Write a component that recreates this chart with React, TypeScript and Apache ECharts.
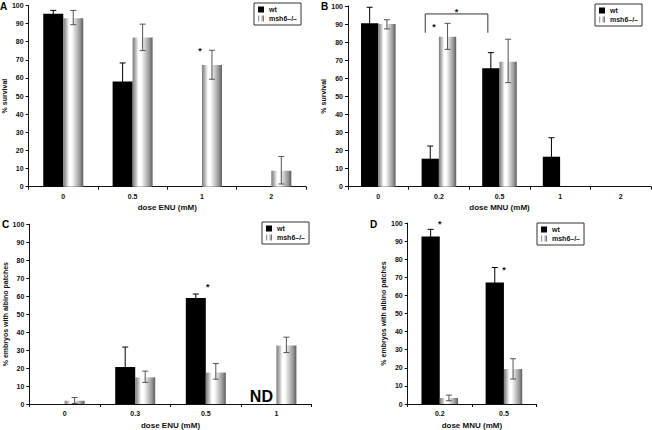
import React, { useEffect, useRef } from "react";
import * as echarts from "echarts";

const FONT = "'Liberation Sans', Arial, sans-serif";
const seriesNames = ["wt", "msh6–/–"];

// ---- Panel A: survival, ENU ----
const catsA = ["0", "0.5", "1", "2"];
const wtA = [95.5, 58, null, null];
const wtLoA = [93.7, 47.7, null, null];
const wtHiA = [97.3, 68.3, null, null];
const mshA = [93, 82.3, 67.2, 8.8];
const mshLoA = [89.4, 75.1, 59.3, 1.5];
const mshHiA = [97.3, 89.7, 75.3, 16.7];
const starsA = [[2, 76]];

// ---- Panel B: survival, MNU ----
const catsB = ["0", "0.2", "0.5", "1", "2"];
const wtB = [90.4, 15.5, 65.6, 16.6, null];
const wtLoB = [81.5, 8.5, 57, 6, null];
const wtHiB = [99.3, 22.5, 74.2, 27.1, null];
const mshB = [90, 83, 69.2, null, null];
const mshLoB = [87.3, 76, 57.6, null, null];
const mshHiB = [92.4, 90.4, 81.6, null, null];
const starsB = [[1, 89.5]];
const bracketB = [[1, 2, 85.2, 95.6]]; // fromCat, toCat, foot value, top value

// ---- Panel C: albino patches, ENU ----
const catsC = ["0", "0.3", "0.5", "1"];
const wtC = [null, 20.6, 59, null];
const wtLoC = [null, 9.5, 56.8, null];
const wtHiC = [null, 31.7, 61.2, null];
const mshC = [1.8, 14.8, 17.5, 32.6];
const mshLoC = [0.3, 12, 13.8, 28.6];
const mshHiC = [3.6, 18.3, 22.5, 37.2];
const starsC = [[2, 66.4]];
const ndC = [[3, 0]];

// ---- Panel D: albino patches, MNU ----
const catsD = ["0.2", "0.5"];
const wtD = [92.5, 67.1];
const wtLoD = [88.5, 58.8];
const wtHiD = [96.5, 75.4];
const mshD = [3.3, 19.3];
const mshLoD = [1.8, 13.8];
const mshHiD = [4.9, 25];
const starsD = [[0, 100.4], [1, 75]];

const panels = [
  {
    cats: catsA, wt: wtA, wtLo: wtLoA, wtHi: wtHiA, msh: mshA, mshLo: mshLoA, mshHi: mshHiA, stars: starsA,
    grid: { left: 28.5, top: 5.5, width: 277.5, height: 181.2 }, bw: 20,
    legend: { left: 254, top: 3 }, yName: "% survival", xName: "dose ENU (mM)", yGap: 19,
    letter: { text: "A", x: 0, y: 1 }, starDx: [-2],
  },
  {
    cats: catsB, wt: wtB, wtLo: wtLoB, wtHi: wtHiB, msh: mshB, mshLo: mshLoB, mshHi: mshHiB, stars: starsB,
    grid: { left: 348, top: 6, width: 303, height: 180.7 }, bw: 17.3,
    legend: { left: 595, top: 4 }, yName: "% survival", xName: "dose MNU (mM)", yGap: 19,
    letter: { text: "B", x: 321, y: 1 }, starDx: [-5],
  },
  {
    cats: catsC, wt: wtC, wtLo: wtLoC, wtHi: wtHiC, msh: mshC, mshLo: mshLoC, mshHi: mshHiC, stars: starsC,
    grid: { left: 29.3, top: 224.3, width: 282.4, height: 180.5 }, bw: 20,
    legend: { left: 262, top: 222 }, yName: "% embryos with albino patches", xName: "dose ENU (mM)", yGap: 20,
    letter: { text: "C", x: 2, y: 219 }, starDx: [2],
  },
  {
    cats: catsD, wt: wtD, wtLo: wtLoD, wtHi: wtHiD, msh: mshD, mshLo: mshLoD, mshHi: mshHiD, stars: starsD,
    grid: { left: 407.7, top: 223, width: 128.3, height: 181.3 }, bw: 18.3,
    legend: { left: 537, top: 223 }, yName: "% embryos with albino patches", xName: "dose MNU (mM)", yGap: 21,
    letter: { text: "D", x: 370, y: 219 }, starDx: [0, 0],
  },
];

const mshGradient = () => ({
  type: "linear", x: 0, y: 0, x2: 1, y2: 0,
  colorStops: [
    { offset: 0, color: "#7a7a7a" },
    { offset: 0.15, color: "#b8b8b8" },
    { offset: 0.3, color: "#ffffff" },
    { offset: 0.42, color: "#ffffff" },
    { offset: 0.65, color: "#c6c6c6" },
    { offset: 0.85, color: "#929292" },
    { offset: 1, color: "#5c5c5c" },
  ],
});

function errSeries(i: number, lo: any[], hi: any[], off: number, color: string) {
  const data = lo.map((l, k) => (l == null ? null : [k, l, hi[k]])).filter((d) => d != null);
  return {
    type: "custom", xAxisIndex: i, yAxisIndex: i, z: 5, silent: true,
    data,
    renderItem: (params: any, api: any) => {
      const k = api.value(0);
      const top = api.coord([k, api.value(2)]);
      const bot = api.coord([k, api.value(1)]);
      const x = top[0] + off;
      const c = 3;
      const st = { stroke: color, lineWidth: 1 };
      return {
        type: "group",
        children: [
          { type: "line", shape: { x1: x, y1: top[1], x2: x, y2: bot[1] }, style: st },
          { type: "line", shape: { x1: x - c, y1: top[1], x2: x + c, y2: top[1] }, style: st },
          { type: "line", shape: { x1: x - c, y1: bot[1], x2: x + c, y2: bot[1] }, style: st },
        ],
      };
    },
  };
}

function buildOption() {
  const grid: any[] = [];
  const xAxis: any[] = [];
  const yAxis: any[] = [];
  const legend: any[] = [];
  const series: any[] = [];
  const graphic: any[] = [];

  panels.forEach((p, i) => {
    grid.push({ ...p.grid, containLabel: false });
    xAxis.push({
      type: "category", gridIndex: i, data: p.cats,
      name: p.xName, nameLocation: "middle", nameGap: 17,
      nameTextStyle: { fontSize: 8, fontWeight: "bold", color: "#111", fontFamily: FONT },
      axisLine: { lineStyle: { color: "#111", width: 1 } },
      axisTick: { show: true, length: 3, lineStyle: { color: "#111" } },
      axisLabel: { fontSize: 7, fontWeight: "bold", color: "#111", fontFamily: FONT, margin: 6 },
    });
    yAxis.push({
      type: "value", gridIndex: i, min: 0, max: 100, interval: 10,
      name: p.yName, nameLocation: "middle", nameRotate: 90, nameGap: p.yGap,
      nameTextStyle: { fontSize: 7, fontWeight: "bold", color: "#111", fontFamily: FONT },
      splitLine: { show: false },
      axisLine: { show: true, lineStyle: { color: "#111", width: 1 } },
      axisTick: { show: true, length: 3, lineStyle: { color: "#111" } },
      axisLabel: { fontSize: 7, fontWeight: "bold", color: "#111", fontFamily: FONT, margin: 5 },
    });
    legend.push({
      data: seriesNames, left: p.legend.left, top: p.legend.top, orient: "vertical",
      itemWidth: 6, itemHeight: 6, itemGap: 2, padding: [3, 4],
      borderColor: "#333", borderWidth: 1, icon: "rect", selectedMode: false,
      textStyle: { fontSize: 7, fontWeight: "bold", color: "#111", fontFamily: FONT },
    });
    series.push({
      name: seriesNames[0], type: "bar", xAxisIndex: i, yAxisIndex: i, data: p.wt,
      barWidth: p.bw, barGap: "0%", itemStyle: { color: "#000" }, silent: true,
    });
    series.push({
      name: seriesNames[1], type: "bar", xAxisIndex: i, yAxisIndex: i, data: p.msh,
      barWidth: p.bw, barGap: "0%", itemStyle: { color: mshGradient() }, silent: true,
    });
    series.push(errSeries(i, p.wtLo, p.wtHi, -p.bw / 2, "#000"));
    series.push(errSeries(i, p.mshLo, p.mshHi, p.bw / 2, "#555"));
    series.push({
      type: "custom", xAxisIndex: i, yAxisIndex: i, z: 6, silent: true, data: p.stars,
      renderItem: (params: any, api: any) => {
        const c = api.coord([api.value(0), api.value(1)]);
        return {
          type: "text", x: c[0] + (p.starDx[params.dataIndex] || 0), y: c[1] + 2,
          style: { text: "*", fontSize: 9, fontWeight: "bold", fill: "#111", align: "center", verticalAlign: "middle", fontFamily: FONT },
        };
      },
    });
    graphic.push({
      type: "text", left: p.letter.x, top: p.letter.y,
      style: { text: p.letter.text, fontSize: 10, fontWeight: "bold", fill: "#000", fontFamily: FONT },
    });
  });

  // bracket in panel B
  const bwB = panels[1].bw;
  series.push({
    type: "custom", xAxisIndex: 1, yAxisIndex: 1, z: 6, silent: true, data: bracketB,
    renderItem: (params: any, api: any) => {
      const a = api.coord([api.value(0), api.value(3)]);
      const b = api.coord([api.value(1), api.value(2)]);
      const xl = a[0] - bwB / 2 - 5;
      const xr = b[0] - bwB / 2 - 3;
      const yt = a[1];
      const yf = b[1];
      return {
        type: "group",
        children: [
          { type: "polyline", shape: { points: [[xl, yf], [xl, yt], [xr, yt], [xr, yf]] }, style: { stroke: "#333", lineWidth: 1, fill: "none" } },
          { type: "text", x: (xl + xr) / 2, y: yt - 2, style: { text: "*", fontSize: 9, fontWeight: "bold", fill: "#111", align: "center", verticalAlign: "middle", fontFamily: FONT } },
        ],
      };
    },
  });

  // ND label in panel C
  const bwC = panels[2].bw;
  series.push({
    type: "custom", xAxisIndex: 2, yAxisIndex: 2, z: 6, silent: true, data: ndC,
    renderItem: (params: any, api: any) => {
      const c = api.coord([api.value(0), api.value(1)]);
      return {
        type: "text", x: c[0] - bwC / 2 - 5, y: c[1],
        style: { text: "ND", fontSize: 16, fontWeight: "bold", fill: "#000", align: "center", verticalAlign: "bottom", fontFamily: FONT },
      };
    },
  });

  return { animation: false, backgroundColor: "#fff", grid, xAxis, yAxis, legend, series, graphic };
}

export default function App() {
  const ref = useRef<HTMLDivElement>(null);
  useEffect(() => {
    if (!ref.current) return;
    const chart = echarts.init(ref.current, null, { renderer: "svg" });
    chart.setOption(buildOption() as any);
    return () => chart.dispose();
  }, []);
  return <div ref={ref} style={{ position: "fixed", left: 0, top: 0, width: 652, height: 430 }} />;
}
